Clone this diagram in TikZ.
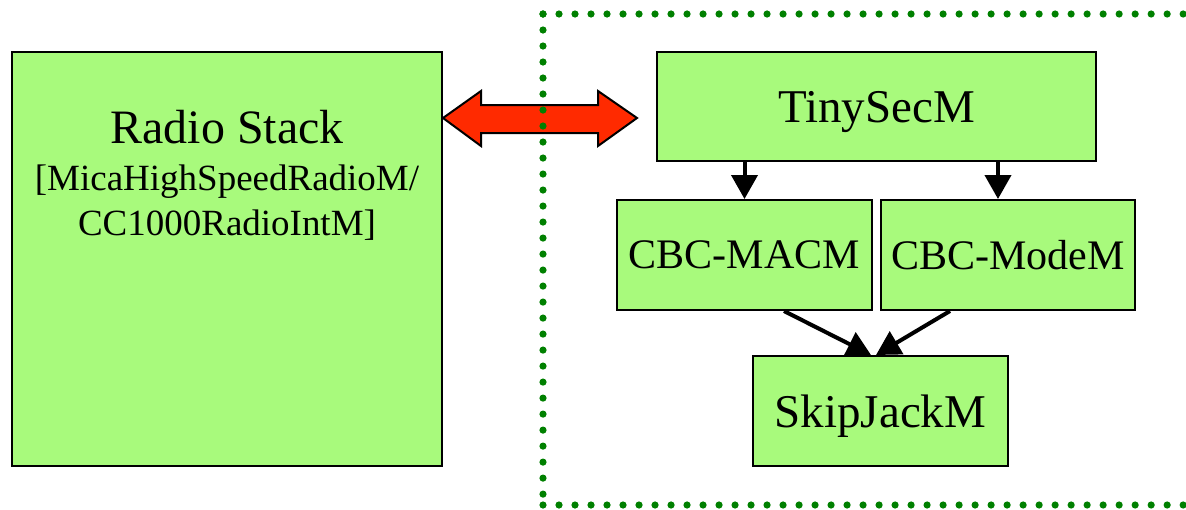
\documentclass[tikz,border=0pt]{standalone}
\usepackage{fontspec}
\setmainfont{Liberation Serif}
\usetikzlibrary{arrows.meta,calc}
\definecolor{modgreen}{HTML}{A8FA7C}
\definecolor{linkred}{HTML}{FF2A00}
\definecolor{dotgreen}{HTML}{008000}
\newcommand\pxu{0.025cm}
\tikzset{
  modbox/.style={draw=black,line width=0.05cm,fill=modgreen,inner sep=0pt,text depth=0pt,
                 font=\fontsize{33.4}{40}\selectfont},
  cbcbox/.style={modbox,font=\fontsize{29.9}{36}\selectfont},
  dep/.style={-{Triangle[length=0.6cm,width=0.65cm]},line width=0.1cm},
  link/.style={draw=black,line width=0.05cm,fill=linkred,line join=miter},
  group/.style={draw=dotgreen,line width=0.18cm,line cap=round,dash pattern=on 0pt off 0.4cm}
}
\begin{document}
\begin{tikzpicture}[x=0.025cm,y=-0.025cm]
  \useasboundingbox (0,0) rectangle (1186,509);
  % radio side
  \node[modbox,minimum width=430*\pxu,minimum height=414*\pxu] (radio) at (227,259) {};
  \node[font=\fontsize{34.1}{40}\selectfont,anchor=base] (radiotitle) at (227,143) {Radio Stack};
  \node[font=\fontsize{26.3}{32}\selectfont,align=center,anchor=north,inner sep=0pt] (radiosub) at (227,165)
    {[MicaHighSpeedRadioM/\\CC1000RadioIntM]};
  % tinysec modules
  \node[modbox,minimum width=439*\pxu,minimum height=109*\pxu] (tiny) at (876.5,106.5) {TinySecM};
  \node[cbcbox,minimum width=255*\pxu,minimum height=110*\pxu] (macm) at (744.5,255) {CBC-MACM};
  \node[cbcbox,minimum width=254*\pxu,minimum height=110*\pxu] (modem) at (1008,255) {CBC-ModeM};
  \node[modbox,minimum width=255*\pxu,minimum height=110*\pxu] (skip) at (880.5,411) {SkipJackM};
  \coordinate (modemin) at ($(modem.north)+(-10,0)$);
  \draw[dep] (tiny.south -| macm.north) -- (macm.north);
  \draw[dep] (tiny.south -| modemin) -- (modemin);
  \draw[dep] ($(macm.south)+(39.5,0)$) -- ($(skip.north)+(-9.5,0)$);
  \draw[dep] ($(modem.south)+(-58,0)$) -- ($(skip.north)+(-4.5,0)$);
  % link between the two sides
  \coordinate (linky) at (0,118);
  \draw[link] (radio.east |- linky) -- ++(38,-27) -- ++(0,14) -- ++(117,0) -- ++(0,-14)
    -- ++(39,27) -- ++(-39,28) -- ++(0,-13) -- ++(-117,0) -- ++(0,13) -- cycle;
  % dotted group frame
  \coordinate (gtl) at (543,14);
  \coordinate (gbl) at (543,505);
  \draw[group] (gtl) -- (1195,14);
  \draw[group] (gtl) -- (gbl);
  \draw[group] (gbl) -- (1195,505);
\end{tikzpicture}
\end{document}
